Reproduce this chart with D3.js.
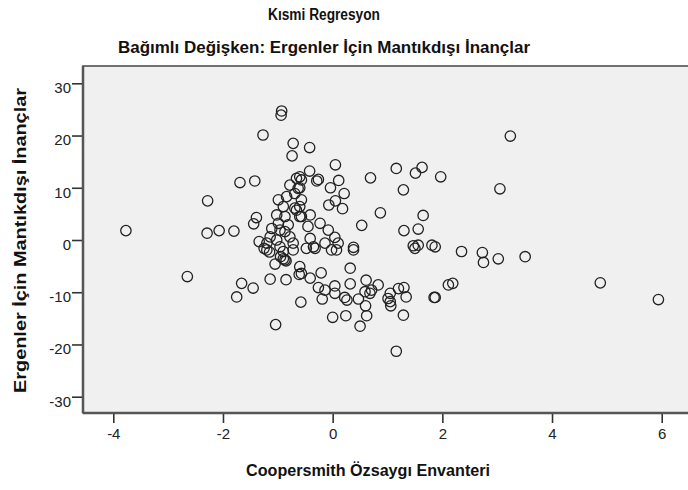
<!DOCTYPE html>
<meta charset="utf-8">
<html>
<head>
  <script src="https://d3js.org/d3.v7.min.js"></script>
  <style>
    body { margin: 0; background: #fff; }
    text { font-family: "Liberation Sans", Arial, sans-serif; }
  </style>
</head>
<body>
<div id="chart"></div>
<script>
// --- data ---
var title = "Kısmi Regresyon";
var subtitle = "Bağımlı Değişken: Ergenler İçin Mantıkdışı İnançlar";
var xLabel = "Coopersmith Özsaygı Envanteri";
var yLabel = "Ergenler İçin Mantıkdışı İnançlar";
var xTicks = [-4, -2, 0, 2, 4, 6];
var yTicks = [-30, -20, -10, 0, 10, 20, 30];

var xs = [
  -3.77, -2.65, -2.28, -2.29, -2.07, -1.80, -1.69, -1.42, -1.39, -1.44, -1.34, -1.27,
  -0.93, -0.94, -0.72, -0.74, -1.66, -1.45, -1.75, -1.14, -0.85, -1.04, -0.58, -0.61,
  -1.05, -0.87, -1.20, -0.90, -0.72, -0.95, -0.85, -0.90,
  -0.42, 0.05, -0.42, -0.26, -0.29, -0.60, 0.11, -0.04, 0.21, 0.05, -0.07, 0.18,
  0.69, 1.16, 1.63, 1.51, 1.29, 0.87, 0.53, 1.65, 1.56, 1.30, 1.47, 1.56, 1.81, 0.38,
  -0.41, -0.23, -0.45, -0.08, 0.04, -0.41, -0.60, -0.60, -0.60, 0.10, -0.14, -0.35,
  0.38, -0.02, 0.07, -0.48, -0.32, 1.50, 1.87,
  0.32, -0.21, -0.60, -0.57, -0.41, 0.32, 0.61, 0.83, -0.26, 0.04, -0.14, 0.04, -0.19,
  0.22, 0.26, 0.47, 0.59, 0.68, 0.71, 1.05, 1.01, 1.05, 1.20, 1.30, 1.34, 1.06, 0.60,
  1.29, 0.62, 0.24, 0.00, 0.50, 1.16, 1.87,
  3.24, 1.97, 3.05, 2.35, 2.73, 2.75, 3.02, 3.51, 2.11, 2.19, 1.85, 4.88, 5.94,
  -0.66, -0.57, -0.78, -0.63, -0.69, -0.84, -0.99, -0.57, -0.90, -0.69, -0.66, -1.02,
  -0.87, -0.57, -1.11, -0.99, -0.81, -0.96, -0.87, -1.14, -1.02, -0.78, -0.72, -1.20,
  -0.96, -1.25, -1.15
];
var ys = [
  1.8, -7.0, 7.5, 1.3, 1.8, 1.7, 11.0, 11.3, 4.3, 3.1, -0.3, 20.1,
  24.7, 23.9, 18.5, 16.1, -8.3, -9.2, -10.9, -7.5, -7.6, -16.2, -11.9, -6.6,
  -4.6, -3.8, -1.9, -2.2, -1.9, -3.2, -4.0, -3.6,
  17.7, 14.4, 13.2, 11.6, 11.3, 12.1, 11.4, 10.0, 8.9, 7.5, 6.7, 6.0,
  11.9, 13.7, 13.9, 12.8, 9.6, 5.2, 2.8, 4.7, 2.1, 1.8, -1.1, -1.0, -1.0, -1.4,
  4.8, 3.2, 2.6, 1.9, 0.5, 0.3, 6.4, 4.5, 10.0, -0.6, -0.6, -1.3,
  -1.9, -1.9, -1.9, -1.6, -1.6, -1.6, -1.3,
  -5.4, -6.3, -5.1, -6.4, -7.3, -8.4, -7.7, -8.6, -9.1, -8.8, -9.6, -10.2, -11.3,
  -11.0, -11.5, -11.3, -9.9, -10.2, -9.6, -10.2, -11.2, -11.8, -9.3, -9.1, -10.9, -12.6, -12.6,
  -14.4, -14.5, -14.5, -14.8, -16.5, -21.3, -11.0,
  19.9, 12.1, 9.8, -2.2, -2.4, -4.3, -3.6, -3.2, -8.6, -8.3, -11.0, -8.2, -11.4,
  11.8, 11.5, 10.5, 9.9, 8.9, 8.3, 7.7, 7.7, 6.4, 6.1, 5.7, 4.8,
  4.5, 4.5, 2.2, 3.2, 2.9, 1.9, 1.6, 0.6, 0.0, 0.6, -0.6, -0.6,
  -1.3, -1.6, -2.3
];

// --- layout ---
var width = 688, height = 490;
var plot = { left: 83, top: 66, right: 694, bottom: 413 };

var svg = d3.select("#chart").append("svg")
    .attr("width", width)
    .attr("height", height);

var x = d3.scaleLinear().domain([-4, 6]).range([113.3, 661.7]);
var y = d3.scaleLinear().domain([-30, 30]).range([396.7, 83.3]);

// plot background + frame
svg.append("rect")
    .attr("x", plot.left).attr("y", plot.top)
    .attr("width", plot.right - plot.left)
    .attr("height", plot.bottom - plot.top)
    .attr("fill", "#f0f0f0")
    .attr("stroke", "#444")
    .attr("stroke-width", 1.5);

// points
var pts = xs.map(function(v, i) { return [v, ys[i]]; });
svg.append("g").selectAll("circle")
    .data(pts)
    .enter().append("circle")
    .attr("cx", function(d) { return x(d[0]); })
    .attr("cy", function(d) { return y(d[1]); })
    .attr("r", 5.2)
    .attr("fill", "none")
    .attr("stroke", "#222")
    .attr("stroke-width", 1.3);

// axes (plain hyphen for negatives, like SPSS)
var fmt = function(d) { return String(d); };
var xAxis = svg.append("g")
    .attr("transform", "translate(0," + plot.bottom + ")")
    .call(d3.axisBottom(x).tickValues(xTicks).tickSize(10).tickPadding(5).tickFormat(fmt));
var yAxis = svg.append("g")
    .attr("transform", "translate(" + plot.left + ",0)")
    .call(d3.axisLeft(y).tickValues(yTicks).tickSize(11).tickPadding(1).tickFormat(fmt));

[xAxis, yAxis].forEach(function(a) {
  a.select(".domain").remove();
  a.selectAll(".tick line").attr("stroke", "#333").attr("stroke-width", 1.6);
  a.selectAll(".tick text").attr("fill", "#222").style("font-size", "15px");
});
yAxis.selectAll(".tick text").attr("dy", "0.62em");

// thicker left/bottom axis lines
svg.append("line")
    .attr("x1", plot.left).attr("x2", plot.left)
    .attr("y1", plot.top).attr("y2", plot.bottom)
    .attr("stroke", "#555").attr("stroke-width", 2.5);
svg.append("line")
    .attr("x1", plot.left).attr("x2", plot.right)
    .attr("y1", plot.bottom).attr("y2", plot.bottom)
    .attr("stroke", "#555").attr("stroke-width", 2.5);

// titles (condensed bold face in the original, so squeeze to the measured width)
function label(txt, tx, ty, size, len, rot) {
  svg.append("text")
      .attr("transform", "translate(" + tx + "," + ty + ")" + (rot ? " rotate(-90)" : ""))
      .attr("text-anchor", "middle")
      .attr("textLength", len)
      .attr("lengthAdjust", "spacingAndGlyphs")
      .style("font-size", size + "px").style("font-weight", "bold")
      .attr("fill", "#111")
      .text(txt);
}
label(title, 324, 20, 16, 112);
label(subtitle, 324, 53, 17, 412);
label(xLabel, 368, 476, 17, 244);
label(yLabel, 26, 240.5, 17, 305, true);
</script>
</body>
</html>
